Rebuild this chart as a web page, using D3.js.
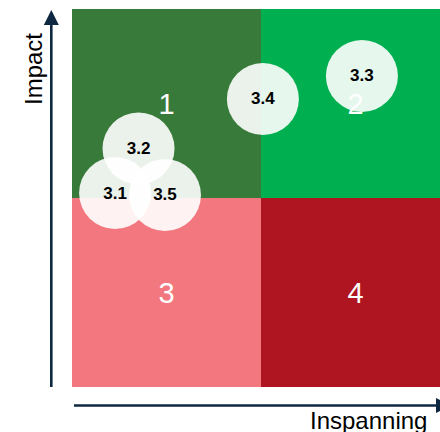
<!DOCTYPE html>
<html>
<head>
<meta charset="utf-8">
<script src="https://cdn.jsdelivr.net/npm/d3@7"></script>
<style>
  html, body { margin: 0; padding: 0; background: #ffffff; }
  svg { display: block; font-family: "Liberation Sans", Arial, sans-serif; }
</style>
</head>
<body>
<svg id="chart" width="440" height="432"></svg>
<script>
// ---- data ----
const pointLabels = ["3.1", "3.2", "3.3", "3.4", "3.5"];
const inspanning  = [1.14, 1.76, 7.67, 5.05, 2.46];
const impact      = [5.13, 6.31, 8.23, 7.62, 5.08];

const quadrantNames  = ["1", "2", "3", "4"];
const quadrantX0     = [0, 5, 0, 5];
const quadrantY0     = [5, 5, 0, 0];
const quadrantColors = ["#387a3a", "#00b050", "#f2777e", "#ae1520"];

const xAxisTitle = "Inspanning";
const yAxisTitle = "Impact";

// ---- layout ----
const svg = d3.select("#chart");
const x = d3.scaleLinear().domain([0, 10]).range([72, 450]);
const y = d3.scaleLinear().domain([0, 10]).range([387, 9]);
const half = 5;
const axisColor = "#0e2841";

// quadrants
const quads = quadrantNames.map((n, i) => ({ n, x0: quadrantX0[i], y0: quadrantY0[i], c: quadrantColors[i] }));
svg.append("g").selectAll("rect").data(quads).join("rect")
  .attr("x", d => x(d.x0))
  .attr("y", d => y(d.y0 + half))
  .attr("width", d => x(d.x0 + half) - x(d.x0))
  .attr("height", d => y(d.y0) - y(d.y0 + half))
  .attr("fill", d => d.c);

// bubbles
const pts = pointLabels.map((l, i) => ({ l, x: inspanning[i], y: impact[i] }));
svg.append("g").selectAll("circle").data(pts).join("circle")
  .attr("cx", d => x(d.x))
  .attr("cy", d => y(d.y))
  .attr("r", 36)
  .attr("fill", "#ffffff")
  .attr("fill-opacity", 0.9);

// quadrant labels
svg.append("g").selectAll("text").data(quads).join("text")
  .attr("x", d => x(d.x0 + half / 2))
  .attr("y", d => y(d.y0 + half / 2))
  .attr("text-anchor", "middle")
  .attr("dominant-baseline", "central")
  .attr("fill", "#ffffff")
  .attr("font-size", 29)
  .text(d => d.n);

// bubble labels
svg.append("g").selectAll("text").data(pts).join("text")
  .attr("x", d => x(d.x))
  .attr("y", d => y(d.y))
  .attr("text-anchor", "middle")
  .attr("dominant-baseline", "central")
  .attr("fill", "#000000")
  .attr("font-weight", "bold")
  .attr("font-size", 17)
  .text(d => d.l);

// axes arrows
const axY = 51.3, axXline = 405.5;
svg.append("line")
  .attr("x1", axY).attr("x2", axY)
  .attr("y1", y(0)).attr("y2", 22)
  .attr("stroke", axisColor).attr("stroke-width", 2.6);
svg.append("path")
  .attr("d", `M${axY},10 L${axY - 7.5},25 L${axY + 7.5},25 Z`)
  .attr("fill", axisColor);

svg.append("line")
  .attr("x1", 74).attr("x2", 440)
  .attr("y1", axXline).attr("y2", axXline)
  .attr("stroke", axisColor).attr("stroke-width", 2.6);
svg.append("path")
  .attr("d", `M451,${axXline} L436,${axXline - 7.5} L436,${axXline + 7.5} Z`)
  .attr("fill", axisColor);

// axis titles
svg.append("text")
  .attr("x", 310).attr("y", 428.5)
  .attr("font-size", 24)
  .attr("fill", "#000000")
  .text(xAxisTitle);

svg.append("text")
  .attr("transform", "translate(42,105) rotate(-90)")
  .attr("font-size", 24)
  .attr("fill", "#000000")
  .text(yAxisTitle);
</script>
</body>
</html>
